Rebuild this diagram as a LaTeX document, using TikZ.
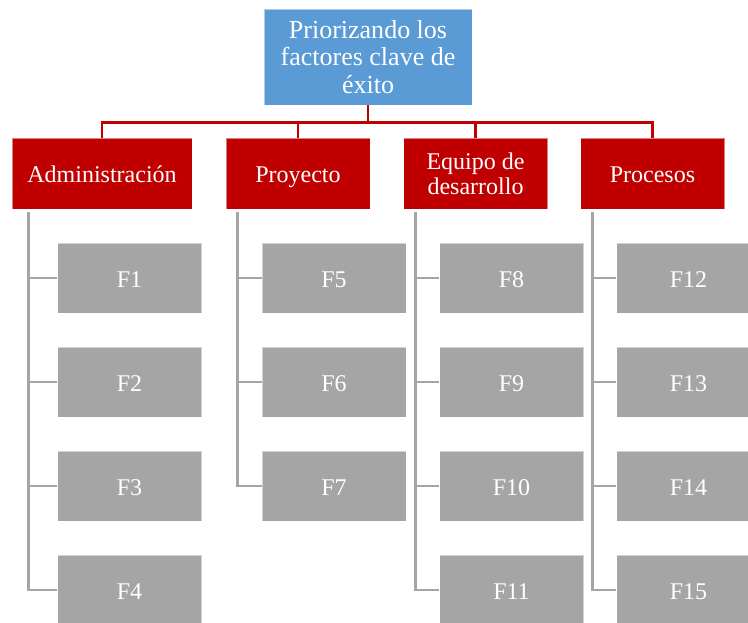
\documentclass[tikz,border=0pt]{standalone}
\usepackage{fontspec}
\setmainfont{Liberation Serif}
\definecolor{topblue}{HTML}{5B9BD5}
\definecolor{catred}{HTML}{C00000}
\definecolor{itemgray}{HTML}{A5A5A5}
\begin{document}
\begin{tikzpicture}[x=0.75pt,y=-0.75pt,
  box/.style={draw=white, draw opacity=0.5, line width=0.6pt, text=white,
    align=center, inner sep=2pt, font=\fontsize{18pt}{19pt}\selectfont},
  oneline/.style={text height=13.5pt, text depth=0pt},
  topbox/.style={box, fill=topblue, minimum width=156pt, minimum height=72pt,
    font=\fontsize{19.5pt}{20.5pt}\selectfont},
  catbox/.style={box, fill=catred, minimum height=53.25pt},
  itembox/.style={box, oneline, fill=itemgray, minimum width=108pt, minimum height=52.5pt},
  redline/.style={catred, line width=2.2pt},
  grayline/.style={itemgray, line width=2.2pt}]
\useasboundingbox (0,0) rectangle (748,622);
\clip (0,0) rectangle (748,622);

% root
\node[topbox] (top) at (368,57) {Priorizando los\\factores clave de\\éxito};

% categories
\node[catbox, oneline, minimum width=135pt] (adm) at (102,173.5) {Administración};
\node[catbox, oneline, minimum width=108pt] (pro) at (298,173.5) {Proyecto};
\node[catbox, minimum width=108pt] (equ) at (475.5,173.5) {Equipo de\\desarrollo};
\node[catbox, oneline, minimum width=108pt] (prc) at (652.5,173.5) {Procesos};

% factors
\foreach \n/\x/\y in {1/129.5/278, 2/129.5/382, 3/129.5/486, 4/129.5/590,
                      5/334/278, 6/334/382, 7/334/486,
                      8/511.5/278, 9/511.5/382, 10/511.5/486, 11/511.5/590,
                      12/688.5/278, 13/688.5/382, 14/688.5/486, 15/688.5/590}
  \node[itembox] (f\n) at (\x,\y) {F\n};

% root to categories
\foreach \c in {adm,pro,equ,prc}
  \draw[redline] (top.south) -- ++(0,17) -| (\c.north);

% categories to factors
\foreach \f in {1,2,3,4}
  \draw[grayline] (adm.south west) ++(17,3) |- (f\f.west);
\foreach \f in {5,6,7}
  \draw[grayline] (pro.south west) ++(12,3) |- (f\f.west);
\foreach \f in {8,9,10,11}
  \draw[grayline] (equ.south west) ++(12,3) |- (f\f.west);
\foreach \f in {12,13,14,15}
  \draw[grayline] (prc.south west) ++(12,3) |- (f\f.west);
\end{tikzpicture}
\end{document}
